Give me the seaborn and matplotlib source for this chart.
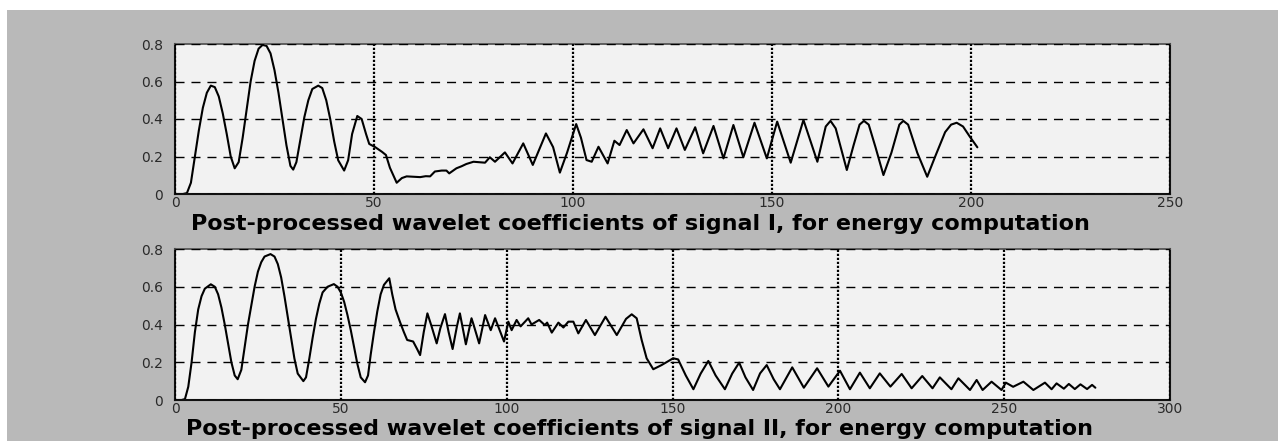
import matplotlib
matplotlib.use("Agg")
import matplotlib.pyplot as plt
import seaborn as sns
from matplotlib.patches import Rectangle

# signal I, post-processed wavelet coefficients
sig1_x = [0, 1, 2, 3, 4, 5, 6, 7, 8, 9, 10, 11, 12, 13, 14, 15, 16, 17, 18, 19,
          20, 21, 22, 23, 24, 25, 26, 27, 28, 29, 29.7, 30.5, 31.5, 32.5, 33.5, 34.5,
          36, 37, 38, 39, 40, 41, 42.5, 43.5, 44.5, 45.8, 46.9, 48, 48.8, 50.3, 52,
          53, 54, 55.7, 57, 58.2, 60, 61.6, 63, 64.1, 65.3, 67, 68.2, 68.9, 70.7, 72,
          73.2, 75, 77.9, 79.1, 80.4, 82.9, 84.8, 87.5, 89.9, 93.2, 95, 96.7, 98.5,
          100.8, 102, 103.4, 104.7, 106.4, 108.7, 110.4, 111.7, 113.5, 115.2, 117.7,
          120, 121.9, 123.9, 126, 128.1, 130.7, 132.7, 135.3, 137.8, 140.3, 142.8,
          145.6, 148.7, 151.3, 154.7, 157.9, 161.4, 163.5, 164.7, 166, 168.8, 170.5,
          172, 173.1, 174.3, 176, 178, 180, 182, 183, 184.2, 186.5, 189, 191, 193.5,
          195, 196.4, 198, 199.7, 201.6]
sig1_y = [0, 0, 0, 0.005, 0.06, 0.2, 0.34, 0.46, 0.54, 0.578, 0.57, 0.52, 0.43, 0.32,
          0.2, 0.137, 0.17, 0.3, 0.45, 0.6, 0.71, 0.775, 0.795, 0.79, 0.75, 0.66, 0.54,
          0.4, 0.26, 0.15, 0.13, 0.17, 0.29, 0.41, 0.5, 0.56, 0.578, 0.565, 0.5, 0.4,
          0.28, 0.18, 0.125, 0.18, 0.32, 0.416, 0.40, 0.32, 0.267, 0.25, 0.225, 0.208,
          0.14, 0.06, 0.085, 0.094, 0.092, 0.09, 0.095, 0.094, 0.12, 0.125, 0.125, 0.11,
          0.137, 0.148, 0.16, 0.172, 0.167, 0.196, 0.172, 0.222, 0.163, 0.27, 0.155,
          0.323, 0.25, 0.114, 0.22, 0.373, 0.3, 0.181, 0.172, 0.252, 0.163, 0.284,
          0.261, 0.341, 0.27, 0.345, 0.244, 0.35, 0.244, 0.35, 0.235, 0.356, 0.217,
          0.363, 0.19, 0.368, 0.196, 0.38, 0.19, 0.386, 0.167, 0.395, 0.172, 0.36, 0.39,
          0.35, 0.128, 0.26, 0.37, 0.39, 0.37, 0.25, 0.101, 0.22, 0.37, 0.39, 0.37, 0.22,
          0.092, 0.2, 0.33, 0.37, 0.38, 0.36, 0.306, 0.249]

# signal II
sig2_x = [0, 1, 2, 3, 4, 5, 6, 7, 8, 9, 10.8, 12, 13, 14, 15, 16, 17, 18, 18.9, 20,
          21, 22, 23, 24, 25, 26, 27, 28.8, 30, 31, 32, 33, 34, 35, 36, 37, 38.7, 39.5,
          40.5, 41.5, 42.5, 43.5, 44.5, 46, 47.9, 49, 50, 51, 52, 53, 54, 55, 56, 57.3,
          58.2, 59, 60, 61, 62, 63, 64.6, 65.5, 66.5, 67.8, 69, 70, 71.8, 73, 73.9, 75,
          76.1, 77.4, 78.9, 80, 81.4, 82.5, 83.7, 85, 85.9, 87.7, 89.4, 90, 91.7, 93.5,
          95.2, 96.5, 99.2, 100.5, 101.5, 103, 104.2, 106.5, 107.5, 109.8, 111.5, 112.2,
          113.6, 115.6, 117.1, 118.6, 120.1, 121.6, 123.9, 126.6, 129.8, 133.2, 136,
          137.7, 139.2, 140.7, 142.2, 144.2, 146.7, 150.2, 151.7, 154, 156.3, 158.5,
          160.8, 163, 165.8, 168, 170.1, 172, 174.3, 176.4, 178.4, 180.5, 182.4, 186.1,
          189.6, 193.6, 197, 200.5, 203.5, 206.5, 209.5, 212.5, 215.7, 219.1, 222.1,
          225.3, 228.4, 230.6, 234.1, 236.2, 239.7, 241.7, 243.5, 246.2, 249.2, 250.5,
          252.7, 255.8, 258.8, 262.3, 264.3, 265.8, 268, 269.5, 271.3, 273, 275, 276.5,
          277.5]
sig2_y = [0, 0, 0, 0.005, 0.07, 0.2, 0.36, 0.48, 0.55, 0.59, 0.613, 0.6, 0.56, 0.49,
          0.4, 0.3, 0.2, 0.13, 0.11, 0.16, 0.28, 0.4, 0.5, 0.6, 0.68, 0.73, 0.76, 0.773,
          0.76, 0.72, 0.65, 0.55, 0.44, 0.33, 0.22, 0.14, 0.1, 0.12, 0.22, 0.33, 0.43,
          0.51, 0.57, 0.6, 0.614, 0.6, 0.57, 0.52, 0.45, 0.37, 0.28, 0.19, 0.12, 0.094,
          0.13, 0.24, 0.36, 0.47, 0.56, 0.61, 0.645, 0.56, 0.48, 0.415, 0.36, 0.318,
          0.31, 0.27, 0.238, 0.36, 0.459, 0.388, 0.30, 0.38, 0.455, 0.36, 0.27, 0.39,
          0.459, 0.295, 0.433, 0.40, 0.30, 0.45, 0.37, 0.433, 0.31, 0.415, 0.37, 0.424,
          0.39, 0.433, 0.40, 0.424, 0.397, 0.41, 0.357, 0.41, 0.384, 0.415, 0.415,
          0.353, 0.424, 0.344, 0.441, 0.344, 0.43, 0.454, 0.433, 0.318, 0.221, 0.163,
          0.185, 0.221, 0.215, 0.13, 0.057, 0.14, 0.207, 0.13, 0.057, 0.14, 0.198, 0.12,
          0.053, 0.141, 0.185, 0.11, 0.057, 0.173, 0.065, 0.168, 0.071, 0.155, 0.057,
          0.145, 0.062, 0.141, 0.071, 0.138, 0.062, 0.127, 0.062, 0.12, 0.057, 0.115,
          0.053, 0.106, 0.053, 0.097, 0.053, 0.092, 0.07, 0.097, 0.053, 0.092, 0.057,
          0.088, 0.06, 0.085, 0.058, 0.083, 0.058, 0.08, 0.065]

y_ticks = [0, 0.2, 0.4, 0.6, 0.8]
y_labels = ["0", "0.2", "0.4", "0.6", "0.8"]
x_ticks1 = [0, 50, 100, 150, 200, 250]
x_ticks2 = [0, 50, 100, 150, 200, 250, 300]
title1 = "Post-processed wavelet coefficients of signal I, for energy computation"
title2 = "Post-processed wavelet coefficients of signal II, for energy computation"

sns.set_theme(style="ticks")
plt.rcParams['font.family'] = ['DejaVu Sans']

W, H = 1278, 441
fig = plt.figure(figsize=(W / 100, H / 100), dpi=100, facecolor="white")
# matlab-style grey figure area, white strip on top/left
fig.patches.append(Rectangle((7 / W, 0), 1 - 7 / W, 1 - 10 / H,
                             transform=fig.transFigure, facecolor="#b9b9b9",
                             edgecolor="none", zorder=-10))


def panel(rect, x, y, xmax, xticks, title, label_y):
    ax = fig.add_axes(rect)
    ax.set_facecolor("#f2f2f2")
    sns.lineplot(x=x, y=y, ax=ax, color="black", lw=1.5, sort=False,
                 estimator=None)
    ax.set_xlim(0, xmax)
    ax.set_ylim(0, 0.8)
    ax.set_yticks(y_ticks, y_labels)
    ax.set_xticks(xticks, [str(t) for t in xticks])
    ax.set_ylabel("")
    # vertical grid dotted, horizontal grid dashed
    ax.xaxis.grid(True, color="black", lw=1.6, dashes=(1.0, 0.8))
    ax.yaxis.grid(True, color="black", lw=1.0, dashes=(6.5, 5.0))
    ax.set_axisbelow(False)
    ax.tick_params(axis="both", length=0, labelsize=10, labelcolor="#2a2a2a")
    ax.tick_params(axis="x", pad=1.5)
    ax.tick_params(axis="y", pad=8.5)
    for side in ["left", "bottom", "right"]:
        ax.spines[side].set_color("#111111")
        ax.spines[side].set_linewidth(1.5)
    ax.spines["top"].set_color("#555555")
    ax.spines["top"].set_linewidth(1.3)
    ax.set_xlabel(title, fontsize=16, fontweight="bold", color="black")
    ax.xaxis.label.set_va("baseline")
    ax.xaxis.set_label_coords((640 - 175) / 995, label_y)
    return ax


panel([175 / W, 1 - 194 / H, 995 / W, 150 / H], sig1_x, sig1_y, 250, x_ticks1,
      title1, -(230 - 194) / 150)
panel([175 / W, 1 - 400 / H, 995 / W, 151 / H], sig2_x, sig2_y, 300, x_ticks2,
      title2, -(435 - 400) / 151)

fig.savefig("out.png", dpi=100, facecolor=fig.get_facecolor())
